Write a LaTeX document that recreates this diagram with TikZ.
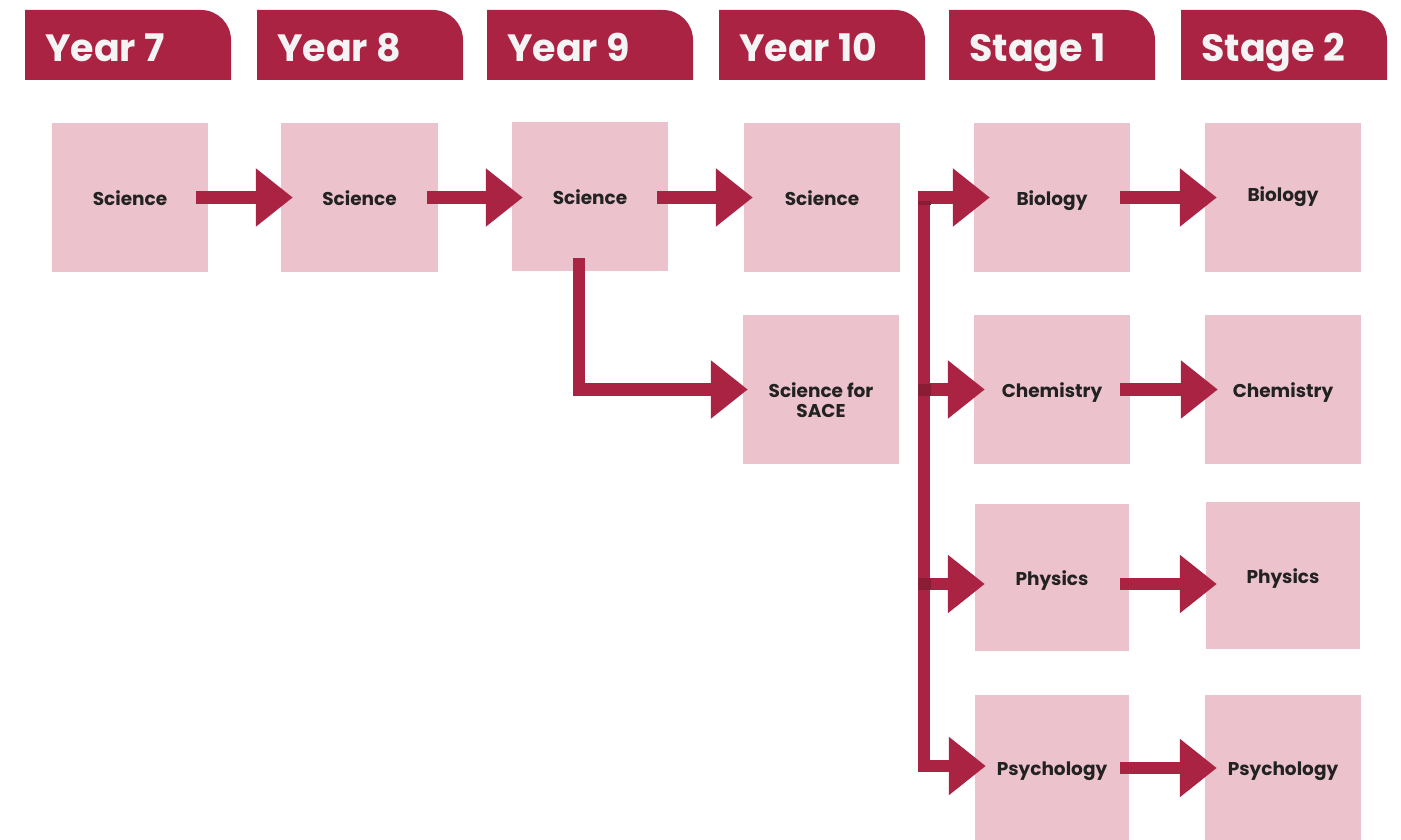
\documentclass[tikz,border=0pt]{standalone}
\usepackage{fontspec}
\setmainfont{Poppins}
\usetikzlibrary{arrows.meta,calc}
\definecolor{crimson}{HTML}{AB2343}
\definecolor{crimsondark}{HTML}{8A1C36}
\definecolor{blush}{HTML}{ECC2CC}
\definecolor{ink}{HTML}{222222}
\definecolor{tabtext}{HTML}{F4F4F4}
\begin{document}
\begin{tikzpicture}[x=1pt,y=-1pt,
  box/.style={fill=blush, minimum width=156pt, minimum height=149pt, inner sep=0pt,
    font=\fontsize{18.5}{20}\selectfont\bfseries, text=ink, text height=15pt, text depth=0pt},
  tabtitle/.style={anchor=base west, inner sep=0pt,
    font=\fontsize{38}{40}\selectfont\bfseries, text=tabtext},
  flow/.style={draw=crimson, line width=12.5pt, -{Triangle[length=37pt,width=56pt]}},
]
\useasboundingbox (0,0) rectangle (1401,840);
\clip (0,0) rectangle (1401,840);

% column header tabs, rounded at the top right
\foreach \x/\t/\n in {25/Year 7/h7, 257/Year 8/h8, 487/Year 9/h9,
                      719/Year 10/h10, 949/Stage 1/hs1, 1181/Stage 2/hs2}{
  \fill[crimson] (\x,80) -- (\x,10) -- ({\x+176},10)
    arc[start angle=-90, end angle=0, radius=30] -- ({\x+206},80) -- cycle;
  \node[tabtitle] (\n) at ({\x+20},62) {\t};
}

% subject boxes
\node[box] (y7)  at (130,197.5)  {Science};
\node[box, minimum width=157pt] (y8) at (359.5,197.5) {Science};
\node[box] (y9)  at (590,196.5)  {\raisebox{-1pt}{Science}};
\node[box] (y10) at (822,197.5)  {Science};
\node[box] (sace) at (821,389.5)
  {\raisebox{0pt}[15pt][0pt]{\begin{tabular}[t]{@{}c@{}}Science for\\SACE\end{tabular}}};

\node[box] (bio1)  at (1052,197.5) {Biology};
\node[box] (chem1) at (1052,389.5) {Chemistry};
\node[box, minimum width=154pt, minimum height=147pt] (phys1) at (1052,577.5) {Physics};
\node[box, minimum width=154pt, minimum height=145pt] (psy1) at (1052,767.5) {Psychology};

\node[box] (bio2)  at (1283,197.5) {\raisebox{4pt}{Biology}};
\node[box] (chem2) at (1283,389.5) {Chemistry};
\node[box, minimum width=154pt, minimum height=147pt] (phys2) at (1283,575.5) {Physics};
\node[box, minimum height=145pt] (psy2) at (1283,767.5) {Psychology};

% Year 7 to Year 10
\draw[flow] ($(y7.east)+(-12,0)$) -- ($(y8.west)+(12,0)$);
\draw[flow] ($(y8.east)+(-11,0)$) -- ($(y9.west)+(11,1)$);
\draw[flow] ($(y9.east)+(-11,1)$) -- ($(y10.west)+(9,0)$);
\draw[flow] ($(y9.south)+(-11,-13)$) |- ($(sace.west)+(5,0)$);

% distribution bar into Stage 1
\coordinate (bus) at (924,0);
\coordinate (busend) at (924,766);
\draw[flow] (busend) |- ($(bio1.west)+(16,0)$);
\draw[flow] (bus |- bio1.west) |- ($(psy1.west)+(11,-1.5)$);
\draw[flow] ($(bus |- chem1.west)+(-6,0)$) -- ($(chem1.west)+(11,0)$);
\draw[flow] ($(bus |- phys1.west)+(-6,6.5)$) -- ($(phys1.west)+(10,6.5)$);
\fill[crimsondark] (918,201.5) rectangle (930.5,205);
\fill[crimsondark] (918,384) rectangle (930.5,396);
\fill[crimsondark] (918,578) rectangle (930.5,590);

% Stage 1 to Stage 2
\draw[flow] ($(bio1.east)+(-10,0)$) -- ($(bio2.west)+(12,0)$);
\draw[flow] ($(chem1.east)+(-10,0)$) -- ($(chem2.west)+(13,0)$);
\draw[flow] ($(phys1.east)+(-9,6.5)$) -- ($(phys2.west |- phys1.east)+(11,6.5)$);
\draw[flow] ($(psy1.east)+(-9,0.5)$) -- ($(psy2.west)+(12,0.5)$);
\end{tikzpicture}
\end{document}
